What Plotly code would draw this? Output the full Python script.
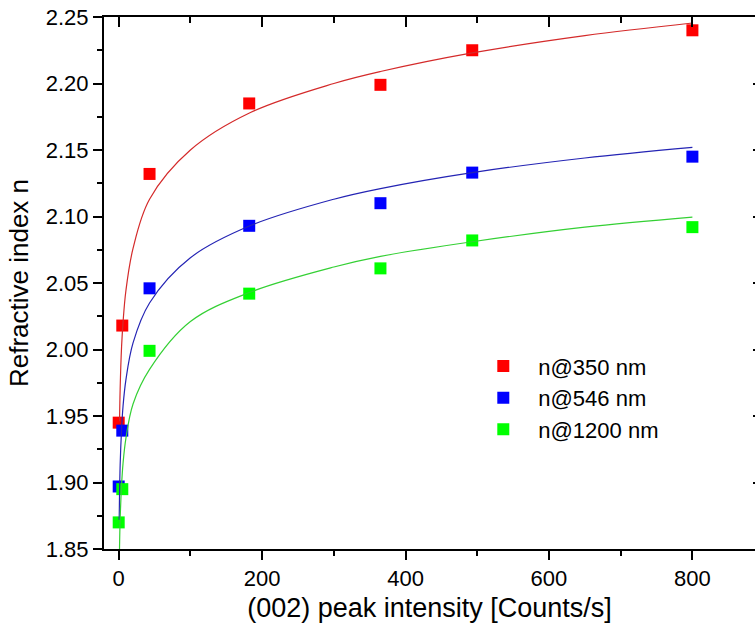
import plotly.graph_objects as go

# Measured data (peak intensity vs refractive index)
intensity = [0, 5, 43, 182, 365, 493, 800]
n350 = [1.945, 2.018, 2.132, 2.185, 2.199, 2.225, 2.240]
n546 = [1.897, 1.939, 2.046, 2.093, 2.110, 2.133, 2.145]
n1200 = [1.870, 1.895, 1.999, 2.042, 2.061, 2.082, 2.092]

# Fit curves
fit_x_350 = [1.2, 2, 4, 6, 10, 20, 43, 100, 183, 300, 365, 493, 650, 800]
fit_y_350 = [1.946, 1.970, 2.002, 2.020, 2.044, 2.076, 2.113, 2.150, 2.178, 2.200, 2.209, 2.223, 2.236, 2.2455]
fit_x_546 = [0.7, 1, 2, 4, 6, 10, 20, 43, 100, 183, 300, 365, 493, 650, 800]
fit_y_546 = [1.872, 1.885, 1.913, 1.940, 1.957, 1.977, 2.005, 2.035, 2.069, 2.093, 2.113, 2.121, 2.133, 2.144, 2.152]
fit_x_1200 = [1, 2, 4, 6, 10, 20, 43, 100, 183, 300, 365, 493, 650, 800]
fit_y_1200 = [1.846, 1.872, 1.898, 1.914, 1.933, 1.959, 1.985, 2.021, 2.043, 2.062, 2.070, 2.081, 2.092, 2.0996]

labels = ["n@350 nm", "n@546 nm", "n@1200 nm"]
marker_colors = ["#ff0000", "#0000ff", "#00ff00"]
line_colors = ["#d42a2a", "#2424b4", "#34d034"]

XR = [-20.5, 887.3]
YR = [1.85, 2.25]

fig = go.Figure()

for fx, fy, lc in zip([fit_x_350, fit_x_546, fit_x_1200],
                      [fit_y_350, fit_y_546, fit_y_1200], line_colors):
    fig.add_trace(go.Scatter(x=fx, y=fy, mode="lines", line=dict(color=lc, width=1.2, shape="spline"),
                             showlegend=False, hoverinfo="skip", xaxis="x2", yaxis="y2"))

for ys, name, mc in zip([n350, n546, n1200], labels, marker_colors):
    fig.add_trace(go.Scatter(x=intensity, y=ys, mode="markers", name=name,
                             marker=dict(symbol="square", size=12, color=mc, line=dict(width=0))))

axis_common = dict(showgrid=False, zeroline=False, linecolor="black", tickcolor="black", tickwidth=2)

fig.update_layout(
    width=755, height=626,
    margin=dict(l=104, r=0, t=17, b=77),
    paper_bgcolor="white", plot_bgcolor="white",
    font=dict(family="Arial, Liberation Sans, sans-serif", color="black"),
    xaxis=dict(range=XR, tick0=0, dtick=200, ticks="outside", ticklen=9, showline=True, linewidth=2,
               tickfont=dict(size=22),
               title=dict(text="(002) peak intensity [Counts/s]", font=dict(size=27), standoff=8),
               minor=dict(ticks="outside", ticklen=5, tickwidth=2, tickcolor="black", tick0=0, dtick=100, showgrid=False),
               **axis_common),
    yaxis=dict(range=YR, tick0=1.85, dtick=0.05, tickformat=".2f", ticks="outside", ticklen=9, showline=True,
               linewidth=2, tickfont=dict(size=22),
               title=dict(text="Refractive index n", font=dict(size=26), standoff=10),
               minor=dict(ticks="outside", ticklen=5, tickwidth=2, tickcolor="black", tick0=1.85, dtick=0.025, showgrid=False),
               **axis_common),
    xaxis2=dict(range=XR, overlaying="x", side="top", anchor="y2", tick0=0, dtick=200, ticks="inside", ticklen=10,
                showline=True, linewidth=2, showticklabels=False,
                minor=dict(ticks="inside", ticklen=6, tickwidth=2, tickcolor="black", tick0=0, dtick=100, showgrid=False),
                **axis_common),
    yaxis2=dict(range=YR, overlaying="y", side="right", anchor="x2", tick0=1.85, dtick=0.05, ticks="inside", ticklen=2,
                showline=False, showticklabels=False, **axis_common),
    legend=dict(x=0.5596, y=0.383, xanchor="left", yanchor="top", bgcolor="rgba(0,0,0,0)",
                font=dict(size=22), itemwidth=60),
    showlegend=True,
)

fig.write_html("out.html")
